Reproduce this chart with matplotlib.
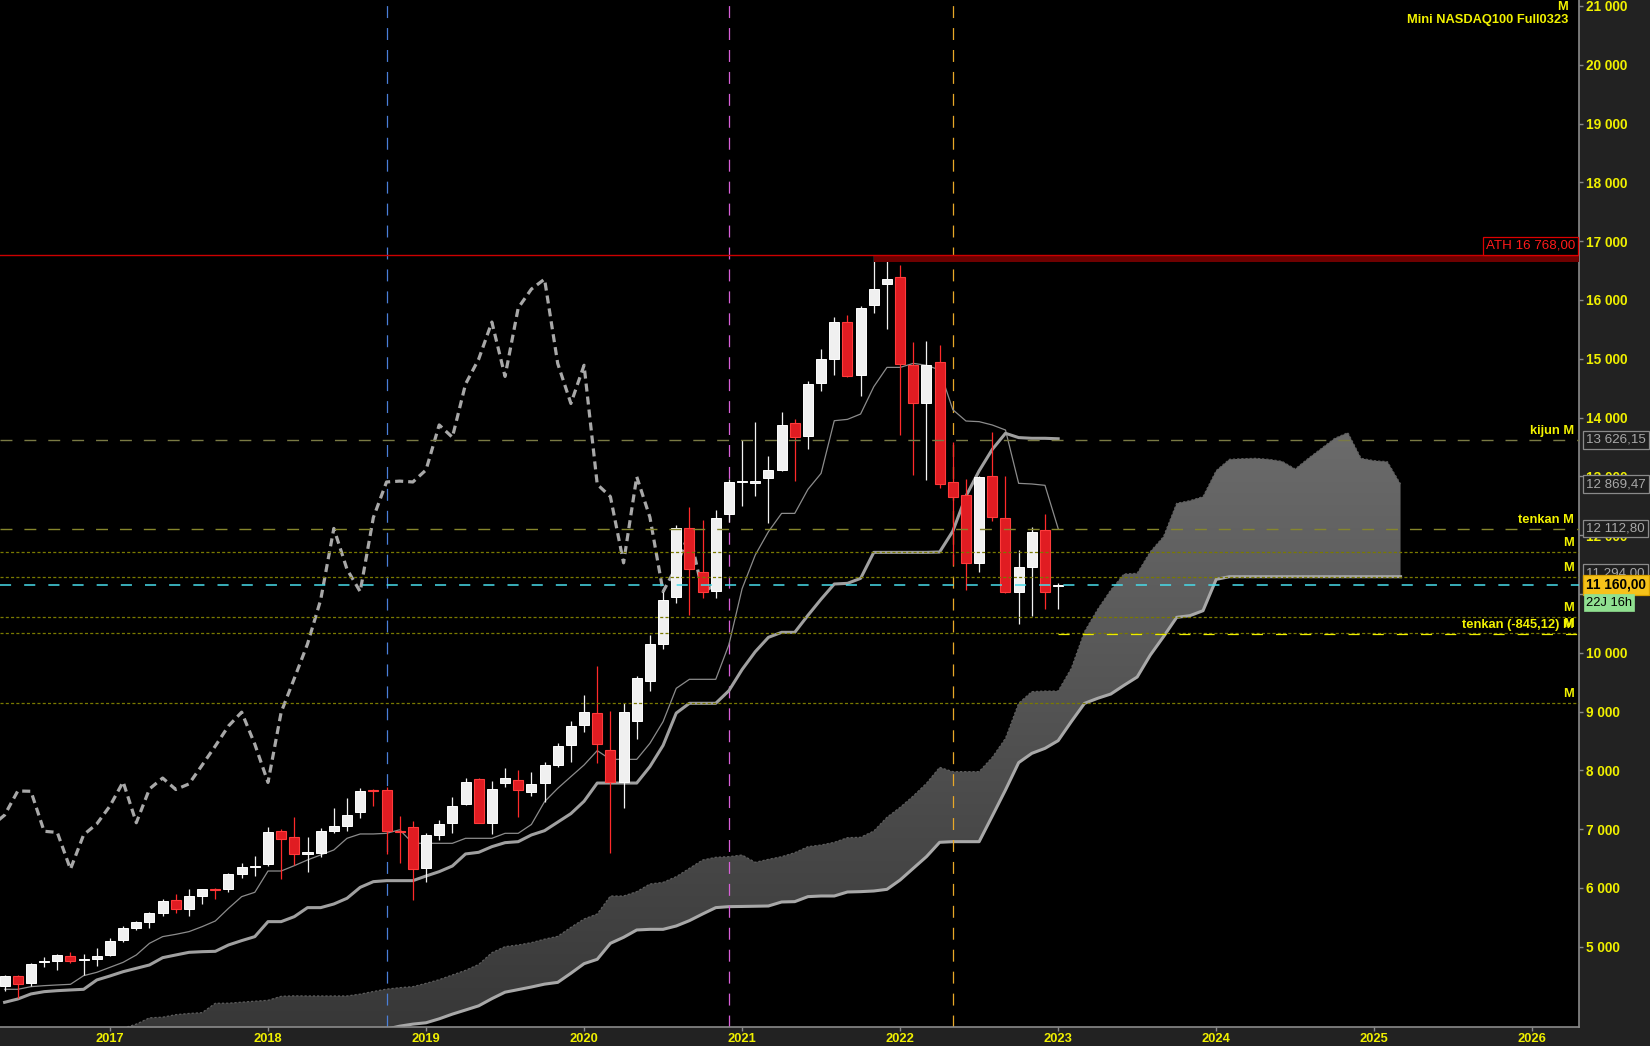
import numpy as np
import matplotlib
matplotlib.use("Agg")
import matplotlib.pyplot as plt
from matplotlib.colors import LinearSegmentedColormap
from matplotlib.transforms import blended_transform_factory, offset_copy

plt.rcParams['font.family'] = ['Liberation Sans', 'DejaVu Sans']
plt.rcParams['lines.scale_dashes'] = False

# === monthly candles, May 2016 .. Jan 2023 (index 0 = May 2016) ===
opens = [4330, 4500, 4390, 4740, 4765, 4845, 4770, 4800,
         4860, 5115, 5325, 5420, 5580, 5795, 5650, 5870, 5985, 5975, 6245, 6360,
         6400, 6965, 6860, 6570, 6600, 6975, 7060, 7300, 7660, 7660, 6960, 7030,
         6345, 6905, 7110, 7430, 7855, 7110, 7790, 7830, 7625, 7790, 8090, 8430,
         8770, 8970, 8340, 7795, 8845, 9525, 10150, 10955, 12115, 11380, 11055, 12360,
         12905, 12895, 12980, 13110, 13900, 13690, 14595, 15000, 15620, 14730, 15920, 16280,
         16385, 14890, 14255, 14940, 12900, 12680, 11535, 13005, 12285, 11040, 11465, 12090,
         11140]
highs = [4520, 4520, 4730, 4830, 4875, 4910, 4880, 4975,
         5145, 5355, 5445, 5600, 5815, 5900, 5985, 5990, 6000, 6255, 6425, 6540,
         7040, 7005, 7210, 6870, 7015, 7355, 7525, 7695, 7685, 7710, 7225, 7135,
         6930, 7160, 7555, 7870, 7870, 7820, 8040, 8005, 7970, 8140, 8460, 8840,
         9280, 9775, 9010, 9140, 9605, 10305, 11040, 12175, 12485, 12260, 12430, 12950,
         13620, 13925, 13345, 14095, 13975, 14620, 15165, 15705, 15740, 15900, 16768, 16690,
         16595, 15285, 15300, 15230, 13590, 12955, 13015, 13755, 13005, 11750, 12145, 12360,
         11180]
lows = [4240, 4130, 4340, 4650, 4600, 4730, 4520, 4680,
        4845, 5090, 5285, 5325, 5530, 5580, 5530, 5735, 5820, 5940, 6175, 6210,
        6380, 6150, 6390, 6280, 6535, 6940, 6975, 7195, 7390, 6570, 6430, 5800,
        6110, 6815, 6940, 7410, 7100, 6920, 7725, 7215, 7570, 7470, 8065, 8150,
        8660, 8120, 6600, 7365, 8535, 9355, 10065, 10840, 10640, 10925, 10935, 12230,
        12495, 12665, 12215, 13095, 12925, 13470, 14460, 14730, 14685, 14375, 15785, 15510,
        13705, 13025, 12940, 12810, 11495, 11065, 11380, 12245, 11020, 10485, 10630, 10750,
        10750]
closes = [4500, 4370, 4710, 4750, 4860, 4765, 4790, 4835,
          5100, 5320, 5420, 5575, 5780, 5635, 5865, 5985, 5970, 6240, 6357, 6370,
          6955, 6840, 6570, 6610, 6970, 7055, 7240, 7650, 7645, 6965, 6945, 6320,
          6905, 7090, 7395, 7805, 7110, 7685, 7870, 7675, 7770, 8090, 8415, 8755,
          8990, 8445, 7795, 8990, 9565, 10150, 10900, 12115, 11420, 11040, 12300, 12905,
          12920, 12905, 13110, 13875, 13665, 14570, 14995, 15625, 14700, 15865, 16185, 16355,
          14920, 14240, 14890, 12865, 12655, 11530, 12995, 12305, 11040, 11460, 12055, 11030,
          11160]

# === Ichimoku lines ===
tenkan = [4277, 4277, 4322, 4339, 4351, 4362, 4509, 4566,
          4651, 4736, 4861, 5059, 5173, 5212, 5258, 5343, 5439, 5654, 5853, 5927,
          6289, 6289, 6380, 6477, 6562, 6647, 6845, 6919, 6919, 6930, 6990, 6760,
          6760, 6760, 6760, 6845, 6845, 6845, 6930, 6930, 7080, 7468, 7695, 7894,
          8092, 8336, 8188, 8188, 8188, 8460, 8829, 9396, 9549, 9549, 9549, 10140,
          11090, 11663, 12060, 12371, 12371, 12780, 13052, 13947, 13970, 14061, 14526, 14854,
          14854, 14922, 14890, 14810, 14135, 13942, 13931, 13874, 13789, 12882, 12871, 12848,
          12113]
kijun = [4056, 4112, 4198, 4237, 4254, 4266, 4277, 4436,
         4504, 4577, 4634, 4691, 4815, 4861, 4906, 4917, 4923, 5031, 5105, 5173,
         5428, 5428, 5513, 5666, 5666, 5728, 5825, 6011, 6108, 6125, 6125, 6125,
         6204, 6278, 6374, 6579, 6607, 6703, 6771, 6788, 6902, 6975, 7120, 7265,
         7475, 7785, 7785, 7785, 7785, 8064, 8425, 8975, 9141, 9141, 9141, 9356,
         9715, 10019, 10263, 10348, 10348, 10637, 10912, 11170, 11181, 11266, 11708, 11708,
         11708, 11708, 11708, 11714, 12068, 12664, 13095, 13460, 13733, 13660, 13648, 13648,
         13640]

span_a_start = 9  # Feb 2017
span_a = [3614, 3685, 3792, 3803, 3846, 3866, 3880, 4039, 4041, 4058, 4075,
          4090, 4158, 4166, 4164, 4164, 4164, 4164, 4195, 4240, 4280, 4305, 4322,
          4379, 4441, 4521, 4600, 4700, 4900, 5003, 5031, 5071, 5130, 5178, 5331,
          5473, 5558, 5864, 5864, 5938, 6068, 6096, 6193, 6334, 6476, 6522, 6533,
          6561, 6437, 6488, 6533, 6601, 6703, 6731, 6777, 6856, 6862, 6969, 7202,
          7372, 7565, 7780, 8052, 7979, 7979, 7979, 8222, 8545, 9141, 9339, 9350,
          9350, 9736, 10359, 10739, 11068, 11340, 11351, 11720, 11975, 12542, 12587, 12655,
          13097, 13290, 13301, 13307, 13290, 13256, 13126, 13307, 13477, 13647, 13744, 13307,
          13267, 13250, 12869]
span_b_start = 29  # Oct 2018
span_b = [3600, 3650, 3685, 3708, 3775, 3855, 3925, 3996, 4118, 4228, 4272,
          4316, 4365, 4395, 4550, 4713, 4787, 5059, 5161, 5286, 5297, 5297, 5354,
          5445, 5558, 5666, 5683, 5686, 5690, 5694, 5762, 5768, 5853, 5864, 5864,
          5932, 5938, 5949, 5977, 6136, 6335, 6533, 6777, 6788, 6788, 6788, 7225,
          7667, 8132, 8290, 8375, 8506, 8830, 9140, 9226, 9299, 9447, 9588, 9962,
          10274, 10603, 10631, 10716, 11249, 11294, 11294, 11294, 11294, 11294, 11294, 11294,
          11294, 11294, 11294, 11294, 11294, 11294, 11294]

years = ['2017', '2018', '2019', '2020', '2021', '2022', '2023', '2024', '2025', '2026']
first_jan = 8   # Jan 2017
lag = 26

ath = 16768.00
level_kijun = 13626.15
level_senkou_a = 12869.47
level_tenkan = 12112.80
level_senkou_b = 11294.00
last_price = 11160.00
level_tenkan_shift = 10314.88
dotted_levels = [11709, 11294, 10604, 10340, 9141]
vlines_idx = [29, 55, 72]
vlines_col = ['#4a7fd8', '#d860d8', '#e8a828']

FS = 9.3

# === figure ===
fig = plt.figure(figsize=(16.5, 10.46), dpi=100, facecolor='#222222')
ax = fig.add_axes([0, 19 / 1046, 1579 / 1650, 1027 / 1046])
ax.set_facecolor('black')

# cloud with vertical gradient
xa = np.arange(span_a_start, span_a_start + len(span_a))
xb = np.arange(span_b_start, span_b_start + len(span_b))
b_full = np.full(len(xa), 3300.0)
b_full[span_b_start - span_a_start:] = span_b
poly = ax.fill_between(xa, span_a, b_full, facecolor='none', edgecolor='none')
cmap = LinearSegmentedColormap.from_list('cloud', ['#363636', '#6c6c6c'])
grad = np.linspace(0, 1, 256).reshape(-1, 1)
im = ax.imshow(grad, extent=[xa[0], xa[-1], 3300, 13900], origin='lower',
               aspect='auto', cmap=cmap, zorder=1, interpolation='bilinear')
im.set_clip_path(poly.get_paths()[0], transform=ax.transData)
ax.plot(xa, span_a, color='#5e5e5e', lw=0.9, ls=(0, (1.6, 1.4)), zorder=1.2)
ax.plot(xb, span_b, color='#a8a8a8', lw=2.2, zorder=1.3)

# vertical markers
for xv, c in zip(vlines_idx, vlines_col):
    ax.axvline(xv, color=c, lw=0.9, ls=(0, (8.6, 7.2)), zorder=1.5)

# chikou, tenkan, kijun
idx = np.arange(len(closes))
ch_x = idx - lag
keep = ch_x >= -1
ax.plot(ch_x[keep], np.array(closes)[keep], color='#a8a8a8', lw=2.3,
        ls=(0, (5.8, 3.6)), zorder=2)
ax.plot(idx, tenkan, color='#8c8c8c', lw=0.9, zorder=2)
ax.plot(idx, kijun, color='#a0a0a0', lw=2.2, zorder=2)

# candles
o = np.array(opens); h = np.array(highs); l = np.array(lows); c = np.array(closes)
up = c >= o
body_lo = np.minimum(o, c)
body_h = np.maximum(np.abs(c - o), 20)
ax.vlines(idx[up], l[up], h[up], color='#f2f2f2', lw=0.9, zorder=3)
ax.vlines(idx[~up], l[~up], h[~up], color='#ff2a2a', lw=0.9, zorder=3)
ax.bar(idx[up], body_h[up], bottom=body_lo[up], width=0.76, color='#f0f0f0',
       edgecolor='#ffffff', lw=0.7, zorder=3.2)
ax.bar(idx[~up], body_h[~up], bottom=body_lo[~up], width=0.76, color='#e01c22',
       edgecolor='#ff3b3b', lw=0.8, zorder=3.2)

# horizontal levels
x_right = 119.55
ax.axhline(level_kijun, color='#7a7a44', lw=1.0, ls=(0, (8.6, 8.6)), zorder=4)
ax.axhline(level_tenkan, color='#86862c', lw=1.0, ls=(0, (8.6, 8.6)), zorder=4)
for lv in dotted_levels:
    ax.axhline(lv, color='#7a7a00', lw=0.9, ls=(0, (2.2, 1.6)), zorder=4)
ax.axhline(last_price, color='#48dcea', lw=1.1, ls=(0, (8, 9.4)), zorder=4)
ax.hlines(level_tenkan_shift, len(closes) - 1, x_right, color='#ecec00', lw=0.9,
          ls=(0, (8, 9.4)), zorder=4)

# ATH
ax.fill_between([66, x_right], [16650, 16650], [ath, ath], color='#6e0000', lw=0, zorder=4)
ax.axhline(ath, color='#cc0000', lw=1.0, zorder=4.2)

ax.set_xlim(-0.35, x_right)
ax.set_ylim(3636, 21102)

# axes styling
for side in ['left', 'top']:
    ax.spines[side].set_visible(False)
for side in ['right', 'bottom']:
    ax.spines[side].set_color('#8a8a8a')
    ax.spines[side].set_linewidth(1.2)
ax.yaxis.tick_right()
yt = np.arange(5000, 21001, 1000)
ax.set_yticks(yt)
ax.set_yticklabels([f"{v:,}".replace(',', ' ') for v in yt])
ax.set_xticks(first_jan + 12 * np.arange(len(years)))
ax.set_xticklabels(years)
ax.tick_params(axis='y', colors='#8a8a8a', length=3, width=1, labelcolor='#f0f000',
               labelsize=9.8, pad=2)
ax.tick_params(axis='x', colors='#8a8a8a', length=3, width=1, labelcolor='#f0f000',
               labelsize=FS, pad=1.5)
for t in ax.get_yticklabels() + ax.get_xticklabels():
    t.set_fontweight('bold')

yellow = '#f2f200'
tr = blended_transform_factory(ax.transAxes, ax.transData)
tr_lab = offset_copy(tr, fig=fig, y=9, units='dots')

# labels over the level lines
line_labels = [(level_kijun, 'kijun M'), (level_tenkan, 'tenkan M'), (11709, 'M'),
               (11294, 'M'), (10604, 'M'), (10340, 'M'),
               (level_tenkan_shift, 'tenkan (-845,12) M'), (9141, 'M')]
for val, txt in line_labels:
    ax.text(0.9968, val, txt, transform=tr_lab, ha='right', va='center', color=yellow,
            fontsize=FS, fontweight='bold', zorder=6)

# title
ax.text(0.993, 1 - 7 / 1027, 'M', transform=ax.transAxes, ha='right', va='center',
        color=yellow, fontsize=FS, fontweight='bold', zorder=6)
ax.text(0.993, 1 - 20 / 1027, 'Mini NASDAQ100 Full0323', transform=ax.transAxes,
        ha='right', va='center', color=yellow, fontsize=FS, fontweight='bold', zorder=6)

# ATH label
ax.text(0.9975, ath, 'ATH 16 768,00', transform=offset_copy(tr, fig=fig, y=3, units='dots'),
        ha='right', va='bottom', color='#ff1a1a', fontsize=9.6, zorder=7,
        bbox=dict(boxstyle='square,pad=0.2', fc='black', ec='#dd0000', lw=0.9))

# right side value boxes
def side_box(val, txt, fc, ec, tc, weight='normal', size=9.6):
    ax.text(1.0045, val, txt, transform=tr, ha='left', va='center', color=tc,
            fontsize=size, fontweight=weight, zorder=8, clip_on=False,
            bbox=dict(boxstyle='square,pad=0.22', fc=fc, ec=ec, lw=0.9))

side_box(level_kijun, '13 626,15', '#1e1e1e', '#8a8a8a', '#a8a8a8')
side_box(level_senkou_a, '12 869,47', '#1e1e1e', '#8a8a8a', '#a8a8a8')
side_box(level_tenkan, '12 112,80', '#1e1e1e', '#8a8a8a', '#a8a8a8')
side_box(level_senkou_b + 60, '11 294,00', '#1e1e1e', '#8a8a8a', '#a8a8a8')
side_box(last_price, '11 160,00', '#f5c21a', '#d8a000', 'black', weight='bold', size=9.8)
ax.text(1.0045, last_price, '22J 16h', transform=offset_copy(tr, fig=fig, y=-18, units='dots'),
        ha='left', va='center', color='black', fontsize=9.3, zorder=8, clip_on=False,
        bbox=dict(boxstyle='square,pad=0.18', fc='#90e090', ec='#90e090', lw=0.5))

fig.savefig('out.png', dpi=100, facecolor=fig.get_facecolor())
